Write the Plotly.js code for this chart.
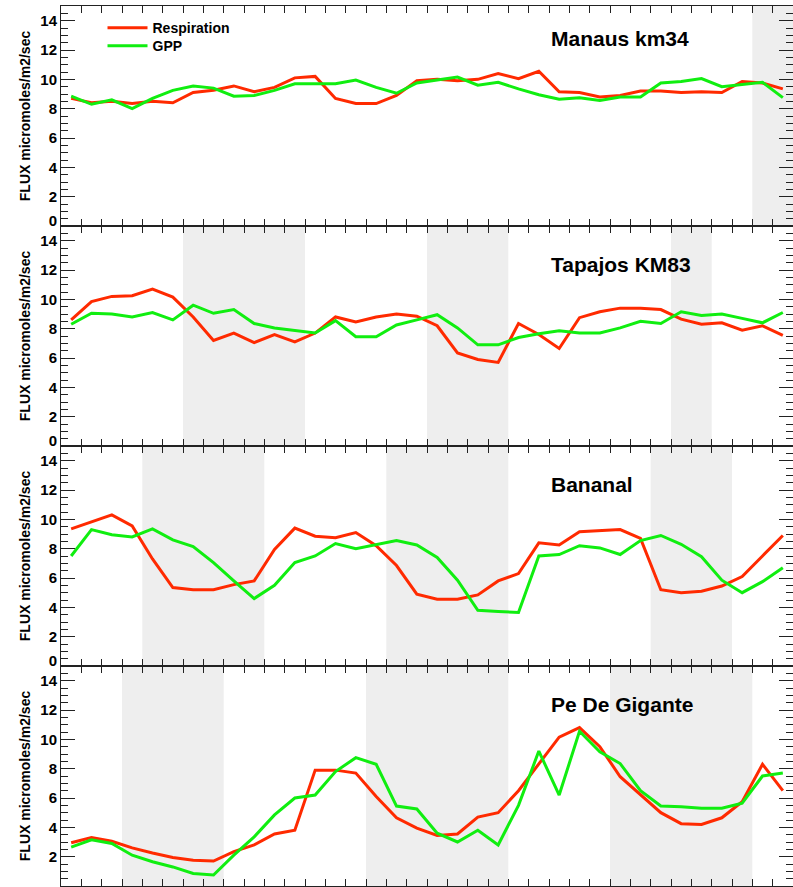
<!DOCTYPE html>
<html>
<head>
<meta charset="utf-8">
<script src="https://cdn.plot.ly/plotly-3.0.1.min.js"></script>
<style>html,body{margin:0;padding:0;background:#fff;}#chart{width:793px;height:887px;}</style>
</head>
<body>
<div id="chart"></div>
<script>
// Months 1..36 (three years of monthly means)
const months = [1,2,3,4,5,6,7,8,9,10,11,12,13,14,15,16,17,18,19,20,21,22,23,24,25,26,27,28,29,30,31,32,33,34,35,36];

const sites = ["Manaus km34", "Tapajos KM83", "Bananal", "Pe De Gigante"];

const respManaus = [8.7, 8.4, 8.5, 8.35, 8.5, 8.4, 9.1, 9.25, 9.55, 9.15, 9.45, 10.1, 10.2, 8.7, 8.35, 8.35, 8.9, 9.9, 10.0, 9.9, 10.0, 10.4, 10.05, 10.55, 9.15, 9.1, 8.8, 8.9, 9.2, 9.2, 9.1, 9.15, 9.1, 9.85, 9.75, 9.35];
const gppManaus  = [8.85, 8.3, 8.6, 8.0, 8.7, 9.25, 9.55, 9.4, 8.85, 8.9, 9.25, 9.7, 9.7, 9.7, 9.95, 9.45, 9.05, 9.75, 9.95, 10.15, 9.6, 9.8, 9.35, 8.95, 8.65, 8.75, 8.55, 8.8, 8.8, 9.75, 9.85, 10.05, 9.5, 9.65, 9.8, 8.75];

const respTapajos = [8.6, 9.85, 10.2, 10.25, 10.7, 10.15, 8.8, 7.2, 7.7, 7.05, 7.6, 7.1, 7.7, 8.8, 8.45, 8.8, 9.0, 8.85, 8.2, 6.35, 5.9, 5.7, 8.35, 7.6, 6.65, 8.75, 9.15, 9.4, 9.4, 9.3, 8.65, 8.3, 8.4, 7.9, 8.2, 7.55];
const gppTapajos  = [8.3, 9.05, 9.0, 8.8, 9.1, 8.6, 9.6, 9.05, 9.3, 8.35, 8.05, 7.9, 7.7, 8.55, 7.45, 7.45, 8.25, 8.6, 8.95, 8.05, 6.9, 6.9, 7.4, 7.65, 7.85, 7.7, 7.7, 8.05, 8.5, 8.35, 9.15, 8.9, 9.0, 8.7, 8.4, 9.1];

const respBananal = [9.35, 9.8, 10.3, 9.55, 7.3, 5.35, 5.2, 5.2, 5.55, 5.8, 7.95, 9.4, 8.85, 8.75, 9.1, 8.2, 6.85, 4.9, 4.55, 4.55, 4.85, 5.8, 6.3, 8.4, 8.25, 9.15, 9.2, 9.3, 8.7, 5.2, 5.0, 5.1, 5.45, 6.1, 7.5, 8.9];
const gppBananal  = [7.5, 9.3, 8.95, 8.8, 9.35, 8.6, 8.15, 7.05, 5.8, 4.6, 5.5, 7.05, 7.5, 8.35, 8.0, 8.25, 8.55, 8.25, 7.4, 5.85, 3.8, 3.72, 3.65, 7.5, 7.6, 8.2, 8.05, 7.6, 8.55, 8.9, 8.3, 7.45, 5.85, 5.0, 5.75, 6.7];

const respGigante = [2.95, 3.3, 3.05, 2.6, 2.25, 1.95, 1.75, 1.7, 2.35, 2.8, 3.55, 3.8, 7.9, 7.9, 7.7, 6.1, 4.65, 3.95, 3.45, 3.55, 4.7, 5.0, 6.5, 8.3, 10.15, 10.8, 9.5, 7.45, 6.2, 5.0, 4.25, 4.2, 4.65, 5.75, 8.3, 6.5];
const gppGigante  = [2.65, 3.15, 2.9, 2.1, 1.65, 1.3, 0.85, 0.75, 2.1, 3.35, 4.85, 6.0, 6.2, 7.8, 8.75, 8.3, 5.45, 5.25, 3.6, 3.0, 3.8, 2.8, 5.5, 9.2, 6.2, 10.55, 9.15, 8.35, 6.5, 5.45, 5.4, 5.3, 5.3, 5.65, 7.5, 7.7];

// Shaded (dry season) months: [first month, last month]
const shadeManaus  = [[35, 36]];
const shadeTapajos = [[7, 12], [19, 22], [31, 32]];
const shadeBananal = [[5, 10], [17, 22], [30, 33]];
const shadeGigante = [[4, 8], [16, 22], [28, 34]];

const yTickVals = [2, 4, 6, 8, 10, 12, 14];
const yZeroTick = [0];
const seriesNames = ["Respiration", "GPP"];

const resp = [respManaus, respTapajos, respBananal, respGigante];
const gpp = [gppManaus, gppTapajos, gppBananal, gppGigante];
const shades = [shadeManaus, shadeTapajos, shadeBananal, shadeGigante];

const RED = '#ff2a00', GREEN = '#10ee10', AX = '#222222';
const FONT = 'Liberation Sans, Arial, Helvetica, sans-serif';
const TICKFONT = {family: FONT, size: 15, weight: 'bold', color: '#000'};
const LEGFONT = {family: FONT, size: 14, weight: 'bold', color: '#000'};

const traces = [];
const layout = {
  width: 793, height: 887,
  margin: {l: 61, r: 0, t: 6, b: 1, pad: 0},
  paper_bgcolor: '#ffffff', plot_bgcolor: '#ffffff',
  font: {family: FONT, color: '#000'},
  showlegend: true,
  legend: {x: 0.0567, y: 0.993, xanchor: 'left', yanchor: 'top',
           bgcolor: 'rgba(0,0,0,0)', borderwidth: 0, font: LEGFONT, itemwidth: 40},
  legend2: {x: 0.0567, y: 0.9725, xanchor: 'left', yanchor: 'top',
           bgcolor: 'rgba(0,0,0,0)', borderwidth: 0, font: LEGFONT, itemwidth: 40},
  shapes: [], annotations: []
};

for (let k = 0; k < 4; k++) {
  const sfx = k === 0 ? '' : String(k + 1);
  const xa = 'x' + sfx, ya = 'y' + sfx;
  traces.push({x: months, y: resp[k], xaxis: xa, yaxis: ya, type: 'scatter', mode: 'lines',
    name: seriesNames[0], showlegend: k === 0, legend: 'legend',
    line: {color: RED, width: 3}});
  traces.push({x: months, y: gpp[k], xaxis: xa, yaxis: ya, type: 'scatter', mode: 'lines',
    name: seriesNames[1], showlegend: k === 0, legend: 'legend2',
    line: {color: GREEN, width: 3}});
  // empty trace binding the overlay axis that carries the "0" label
  traces.push({x: [], y: [], xaxis: xa, yaxis: 'y' + (k + 5), type: 'scatter', mode: 'lines',
    showlegend: false, hoverinfo: 'skip'});

  const top = 1 - k / 4, bot = 1 - (k + 1) / 4;
  layout['xaxis' + sfx] = {
    domain: [0, 1], anchor: ya, range: [0.5, 36.5],
    tickmode: 'linear', tick0: 0.5, dtick: 1,
    ticks: 'inside', ticklen: 7, tickwidth: 1, tickcolor: AX,
    showline: true, linecolor: AX, linewidth: 1, mirror: 'ticks',
    showticklabels: false, showgrid: false, zeroline: false
  };
  if (k > 0) layout['xaxis' + sfx].matches = 'x';
  layout['yaxis' + sfx] = {
    domain: [bot, top], anchor: xa, range: [0, 15],
    tickmode: 'array', tickvals: yTickVals, ticktext: yTickVals.map(String),
    ticks: 'inside', ticklen: 14, tickwidth: 1, tickcolor: AX,
    minor: {tickmode: 'linear', dtick: 0.5, tick0: 0, ticks: 'inside', ticklen: 7, tickwidth: 1, tickcolor: AX, showgrid: false},
    showline: true, linecolor: AX, linewidth: 1, mirror: 'ticks',
    showgrid: false, zeroline: false,
    tickfont: TICKFONT,
    title: {text: 'FLUX micromoles/m2/sec', standoff: 6,
            font: {family: FONT, size: 14, weight: 'bold', color: '#000'}}
  };
  layout['yaxis' + (k + 5)] = {
    overlaying: ya, anchor: xa, side: 'left', range: [0, 15],
    tickmode: 'array', tickvals: yZeroTick, ticktext: yZeroTick.map(String),
    ticks: '', showline: false, showgrid: false, zeroline: false,
    ticklabelshift: -5, ticklabelstandoff: 3, tickfont: TICKFONT
  };
  shades[k].forEach(s => {
    layout.shapes.push({type: 'rect', layer: 'below', xref: xa, yref: ya + ' domain',
      x0: s[0] - 0.5, x1: s[1] + 0.5, y0: 0, y1: 1,
      fillcolor: '#eeeeee', line: {width: 0}});
  });
  layout.annotations.push({text: sites[k], xref: 'paper', yref: ya + ' domain',
    x: 0.666, y: k === 0 ? 0.852 : 0.827, xanchor: 'left', yanchor: 'middle', showarrow: false,
    font: {family: FONT, size: 21, weight: 'bold', color: '#000'}});
}

Plotly.newPlot('chart', traces, layout, {displayModeBar: false, staticPlot: true});
</script>
</body>
</html>
